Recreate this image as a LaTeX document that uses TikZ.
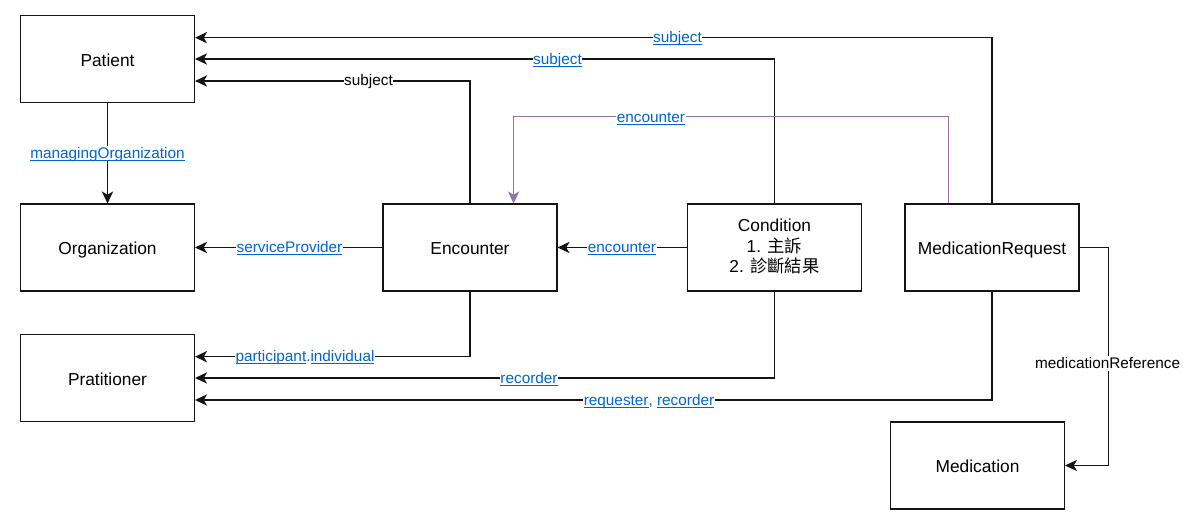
\documentclass[tikz,border=0pt]{standalone}
\usepackage{fontspec}
\setmainfont{Liberation Sans}
\newfontfamily\cjk{Noto Sans CJK TC}
\usetikzlibrary{arrows.meta}
\definecolor{linkblue}{RGB}{0,102,204}
\definecolor{purp}{RGB}{150,115,166}
\definecolor{edgec}{RGB}{20,20,20}
\newcommand{\lnk}[1]{\setbox0\hbox{#1}\rlap{\rule[-1.9pt]{\wd0}{0.75pt}}\box0}
\begin{document}
\begin{tikzpicture}[x=0.75pt,y=-0.75pt,
  box/.style={draw=edgec,line width=0.85pt,minimum width=130.5pt,minimum height=65.25pt,
    inner sep=0pt,font=\fontsize{13pt}{15.5pt}\selectfont,align=center},
  sbox/.style={box,text height=11.2pt,text depth=0pt},
  conn/.style={draw=edgec,line width=0.85pt,-{Stealth[length=9pt,width=8.5pt,inset=2.5pt]}},
  pconn/.style={draw=purp,line width=0.85pt,-{Stealth[length=9pt,width=8.5pt,inset=2.5pt]}},
  lbl/.style={fill=white,inner xsep=0.5pt,inner ysep=0pt,text height=9.5pt,text depth=2pt,
    font=\fontsize{11.5pt}{13pt}\selectfont},
  blbl/.style={lbl,text=linkblue}]
\useasboundingbox (0,0) rectangle (1191,513);
\node[sbox] (pat) at (107.5,59) {Patient};
\node[sbox] (org) at (107.5,247.5) {Organization};
\node[sbox] (prat) at (107.5,378) {Pratitioner};
\node[sbox] (enc) at (470,247.5) {Encounter};
\node[box] (cond) at (774.5,247.5) {\raisebox{0pt}[\height][\depth]{}Condition\\1. {\cjk 主訴}\\2. {\cjk 診斷結果}\rule[-2.5pt]{0pt}{0pt}};
\node[sbox] (mr) at (992,247.5) {MedicationRequest};
\node[sbox] (med) at (977.5,465.5) {Medication};
% subject edges
\draw[conn] (mr.north) |- ([yshift=16pt]pat.east);
\draw[conn] (cond.north) |- (pat.east);
\draw[conn] (enc.north) |- ([yshift=-16.5pt]pat.east);
\draw[conn] (pat.south) -- (org.north);
\draw[pconn] ([xshift=-32.55pt]mr.north) -- ++(0,-86.7) -| ([xshift=32.7pt]enc.north);
\draw[conn] (enc.west) -- (org.east);
\draw[conn] (cond.west) -- (enc.east);
\draw[conn] (enc.south) |- ([yshift=16pt]prat.east);
\draw[conn] (cond.south) |- (prat.east);
\draw[conn] (mr.south) |- ([yshift=-16.5pt]prat.east);
\draw[conn] (mr.east) -- ++(28.6,0) |- (med.east);
% labels
\node[blbl] (l1) at (677.5,37.7) {\lnk{subject}};
\node[blbl] (l2) at (557.5,59.3) {\lnk{subject}};
\node[lbl] (l3) at (368.5,81) {subject};
\node[blbl] (l4) at (107.5,153.7) {\lnk{managingOrganization}};
\node[blbl] (l5) at (651,117.3) {\lnk{encounter}};
\node[blbl] (l6) at (289.5,247.5) {\lnk{serviceProvider}};
\node[blbl] (l7) at (622,247.5) {\lnk{encounter}};
\node[blbl] (l8) at (305,356.7) {\lnk{participant}.\lnk{individual}};
\node[blbl] (l9) at (529,378.7) {\lnk{recorder}};
\node[blbl] (l10) at (649,400) {\lnk{requester}, \lnk{recorder}};
\node[lbl] (l11) at (1107.6,363.3) {medicationReference};
\end{tikzpicture}
\end{document}
